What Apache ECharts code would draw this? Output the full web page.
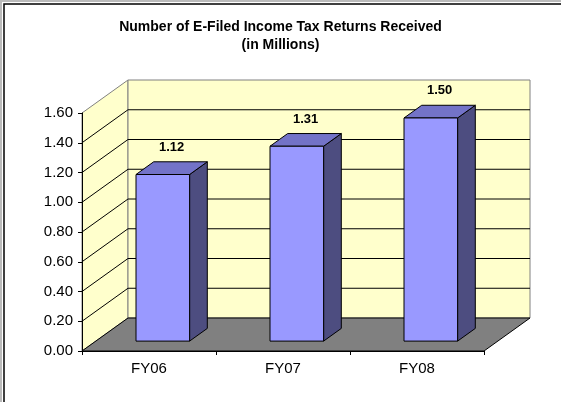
<!DOCTYPE html>
<html>
<head>
<meta charset="utf-8">
<script src="https://cdn.jsdelivr.net/npm/echarts@6/dist/echarts.min.js"></script>
<style>
  html, body { margin: 0; padding: 0; background: #fff; }
  #chart { width: 561px; height: 402px; }
</style>
</head>
<body>
<div id="chart"></div>
<script>
/********************** E-Filed returns ************************/
var categories = ['FY06', 'FY07', 'FY08'];
var returns = [1.12, 1.31, 1.50];
var yTicks = [0, 0.2, 0.4, 0.6, 0.8, 1.0, 1.2, 1.4, 1.6];

var FONT = 'Arial, "Liberation Sans", sans-serif';
var DX = 46, DY = -33; // depth of the 3d box
var BAR_FRONT = 0.3, BAR_BACK = 0.685; // bar position inside the depth

var myChart = echarts.init(document.getElementById('chart'));

// walls, floor and back gridlines
function renderWalls(params, api) {
  var cs = params.coordSys;
  var x0 = cs.x, x1 = cs.x + cs.width;
  var yb = cs.y + cs.height, yt = cs.y;
  var children = [
    { type: 'polygon', shape: { points: [[x0, yb], [x0, yt], [x0 + DX, yt + DY], [x0 + DX, yb + DY]] },
      style: { fill: '#FFFFCC', stroke: '#808080', lineWidth: 1 } },
    { type: 'rect', shape: { x: x0 + DX, y: yt + DY, width: cs.width, height: cs.height },
      style: { fill: '#FFFFCC', stroke: '#808080', lineWidth: 1 } }
  ];
  yTicks.forEach(function (v) {
    if (v <= yTicks[0] || v >= yTicks[yTicks.length - 1]) return;
    var y = api.coord([0, v])[1];
    children.push({ type: 'line', shape: { x1: x0, y1: y, x2: x0 + DX, y2: y + DY }, style: { stroke: '#000', lineWidth: 1 } });
    children.push({ type: 'line', shape: { x1: x0 + DX, y1: y + DY, x2: x1 + DX, y2: y + DY }, style: { stroke: '#000', lineWidth: 1 } });
  });
  // floor
  children.push({ type: 'polygon', shape: { points: [[x0, yb], [x1, yb], [x1 + DX, yb + DY], [x0 + DX, yb + DY]] },
    style: { fill: '#808080', stroke: '#000', lineWidth: 1 } });
  return { type: 'group', children: children };
}

// 3d bar
function renderBar(params, api) {
  var i = api.value(0), v = api.value(1);
  var base = api.coord([i, 0]), top = api.coord([i, v]);
  var bw = api.size([1, 0])[0] * 0.4;
  var fx = base[0] - bw / 2 + DX * BAR_FRONT;
  var fy0 = base[1] + DY * BAR_FRONT;
  var fy1 = top[1] + DY * BAR_FRONT;
  var bdx = DX * (BAR_BACK - BAR_FRONT), bdy = DY * (BAR_BACK - BAR_FRONT);
  var line = { stroke: '#000', lineWidth: 1 };
  return {
    type: 'group',
    children: [
      { type: 'polygon', shape: { points: [[fx + bw, fy1], [fx + bw + bdx, fy1 + bdy], [fx + bw + bdx, fy0 + bdy], [fx + bw, fy0]] },
        style: Object.assign({ fill: '#4D4D80' }, line) },
      { type: 'polygon', shape: { points: [[fx, fy1], [fx + bw, fy1], [fx + bw + bdx, fy1 + bdy], [fx + bdx, fy1 + bdy]] },
        style: Object.assign({ fill: '#7373C8' }, line) },
      { type: 'rect', shape: { x: fx, y: fy1, width: bw, height: fy0 - fy1 },
        style: Object.assign({ fill: '#9999FF' }, line) },
      { type: 'text', x: fx + bw / 2 + bdx / 2, y: fy1 + bdy - 8,
        style: { text: v.toFixed(2), fill: '#000', font: 'bold 13px ' + FONT, align: 'center', verticalAlign: 'bottom' } }
    ]
  };
}

var option = {
  animation: false,
  title: {
    text: 'Number of E-Filed Income Tax Returns Received\n(in Millions)',
    left: 'center',
    top: 13,
    textStyle: { fontFamily: FONT, fontSize: 14, fontWeight: 'bold', color: '#000', lineHeight: 18 }
  },
  graphic: [
    { type: 'rect', shape: { x: 1, y: 1, width: 700, height: 600 }, style: { fill: 'none', stroke: '#bbb', lineWidth: 2 } },
    { type: 'rect', shape: { x: 4, y: 4, width: 700, height: 600 }, style: { fill: 'none', stroke: '#000', lineWidth: 1.5 } }
  ],
  grid: { left: 82, right: 77, top: 113, bottom: 51 },
  xAxis: {
    type: 'category',
    data: categories,
    boundaryGap: true,
    z: 5,
    axisLine: { lineStyle: { color: '#000', width: 1 } },
    axisTick: { show: true, length: 4, lineStyle: { color: '#000' } },
    axisLabel: { fontFamily: FONT, fontSize: 15, color: '#000', margin: 10 }
  },
  yAxis: {
    type: 'value',
    min: yTicks[0],
    max: yTicks[yTicks.length - 1],
    interval: 0.2,
    z: 5,
    axisLine: { show: true, lineStyle: { color: '#000', width: 1 } },
    axisTick: { show: true, length: 4, lineStyle: { color: '#000' } },
    splitLine: { show: false },
    axisLabel: { fontFamily: FONT, fontSize: 15, color: '#000', margin: 9, formatter: function (v) { return v.toFixed(2); } }
  },
  series: [{
    type: 'custom',
    name: 'walls',
    z: 1,
    silent: true,
    renderItem: renderWalls,
    data: [[0, 0]]
  }, {
    type: 'custom',
    name: 'returns',
    z: 2,
    renderItem: renderBar,
    encode: { x: 0, y: 1 },
    data: returns.map(function (v, i) { return [i, v]; })
  }]
};
myChart.setOption(option);
window.addEventListener('resize', function () {
  myChart.resize();
});
</script>
</body>
</html>
